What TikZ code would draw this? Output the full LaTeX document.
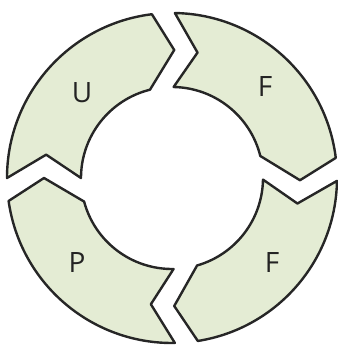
\documentclass[tikz,border=0pt]{standalone}
\usepackage{fontspec}
\newfontfamily\labelfont{Open Sans}
\usetikzlibrary{calc}
\definecolor{segfill}{RGB}{228,236,212}
\definecolor{labelgray}{RGB}{35,35,35}

\begin{document}
\begin{tikzpicture}[x=1pt, y=1pt, line width=2.4pt,
    segment/.style={draw=black!85, fill=segfill, line join=round},
    seglabel/.style={font=\labelfont\fontsize{28}{32}\selectfont, text=labelgray}]
        \useasboundingbox (0,0) rectangle (337,347);

        \begin{scope}[shift={(172,169)}]
        % U (left -> top)
        \draw[segment] (180:165pt) arc[start angle=180, end angle=97, radius=165pt]
            -- (89:128pt) -- (104:91pt) arc[start angle=104, end angle=180, radius=91pt]
            -- (169.5:128pt) -- cycle;

        % F (top -> right)
        \draw[segment] (89:165pt) arc[start angle=89, end angle=7, radius=165pt]
            -- (-1:128pt) -- (14:91pt) arc[start angle=14, end angle=89, radius=91pt]
            -- (78.5:128pt) -- cycle;

        % F (right -> bottom)
        \draw[segment] (-1:165pt) arc[start angle=-1, end angle=-81, radius=165pt]
            -- (-89:128pt) -- (-74:91pt) arc[start angle=-74, end angle=-1, radius=91pt]
            -- (-11.5:128pt) -- cycle;

        % P (bottom -> left)
        \draw[segment] (271:165pt) arc[start angle=271, end angle=188, radius=165pt]
            -- (180:128pt) -- (195:91pt) arc[start angle=195, end angle=271, radius=91pt]
            -- (260.5:128pt) -- cycle;
        \end{scope}

        % Labels
        \node[seglabel] (u) at (82,254) {U};
        \node[seglabel] (f1) at (265,260) {F};
        \node[seglabel] (p) at (77,84) {P};
        \node[seglabel] (f2) at (272,84) {F};
    \end{tikzpicture}
\end{document}
